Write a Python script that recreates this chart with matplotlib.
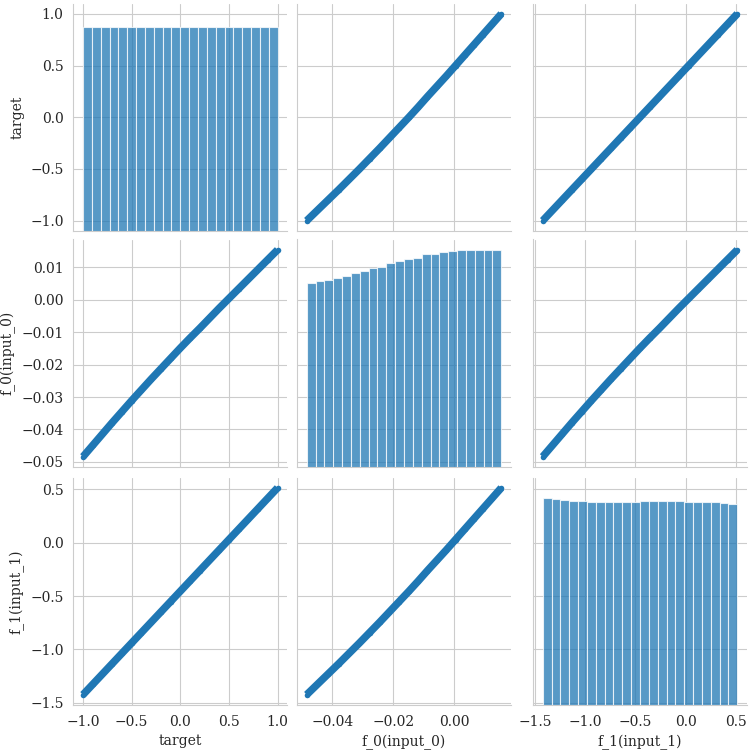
import numpy as np
import matplotlib
matplotlib.use("Agg")
import matplotlib.pyplot as plt
import seaborn as sns

# values
target = [-1.0, -0.9, -0.8, -0.7, -0.6, -0.5, -0.4, -0.3, -0.2, -0.1, 0.0,
          0.1, 0.2, 0.3, 0.4, 0.5, 0.6, 0.7, 0.8, 0.9, 1.0]
f_0 = [-0.0484, -0.0449, -0.0414, -0.0379, -0.0345, -0.0311, -0.0278,
       -0.0245, -0.0213, -0.0181, -0.0149, -0.0118, -0.0088, -0.0057,
       -0.0026, 0.0004, 0.0034, 0.0064, 0.0094, 0.0124, 0.0154]
f_1 = [-1.425, -1.328, -1.231, -1.134, -1.037, -0.940, -0.843, -0.746,
       -0.649, -0.552, -0.455, -0.358, -0.261, -0.164, -0.067, 0.030,
       0.127, 0.224, 0.321, 0.418, 0.515]

# histogram counts (22 bins each) for the diagonal
target_counts = [609] * 22
f_0_counts = [549, 554, 557, 563, 569, 579, 584, 593, 596, 608, 614,
              620, 625, 635, 635, 641, 644, 647, 647, 647, 647, 647]
f_1_counts = [618, 615, 612, 609, 609, 606, 606, 606, 606, 606, 606,
              609, 609, 609, 609, 609, 606, 606, 606, 606, 604, 601]

names = ['target', 'f_0(input_0)', 'f_1(input_1)']
series = [target, f_0, f_1]
counts = [target_counts, f_0_counts, f_1_counts]

sns.set_style('whitegrid')
plt.rcParams['font.family'] = ['DejaVu Serif']
plt.rcParams['font.size'] = 10

blue = '#1f77b4'

fig = plt.figure(figsize=(7.5, 7.5), dpi=100)
lefts = [73.3, 297, 533]
bottoms = [231, 467, 705]
w, h = 214 / 750, 227.5 / 750

axes = np.empty((3, 3), dtype=object)
for i in range(3):
    for j in range(3):
        rect = [lefts[j] / 750, 1 - bottoms[i] / 750, w, h]
        sx = axes[0, j] if i > 0 else None
        sy = axes[i, 0] if j > 0 else None
        axes[i, j] = fig.add_axes(rect, sharex=sx, sharey=sy)

diag_axes = []
for i in range(3):
    for j in range(3):
        ax = axes[i, j]
        if i != j:
            # points sit under a thick band so the dense cloud reads as solid
            ax.scatter(series[j], series[i], s=16, color=blue, lw=0, zorder=2)
            ax.plot(series[j], series[i], color=blue, lw=5.4,
                    solid_capstyle='butt', solid_joinstyle='round', zorder=3)
        else:
            # invisible points so the base axes gets the right limits
            ax.scatter(series[i], series[i], alpha=0)
            dax = ax.twinx()
            if diag_axes:
                dax.sharey(diag_axes[0])
            dax.set_axis_off()
            edges = np.linspace(min(series[i]), max(series[i]), len(counts[i]) + 1)
            dax.bar(edges[:-1], counts[i], width=np.diff(edges), align='edge',
                    color=blue, alpha=0.75, edgecolor='white', linewidth=0.8)
            diag_axes.append(dax)
        for side in ['top', 'right']:
            ax.spines[side].set_visible(False)
        ax.tick_params(left=False, right=False, bottom=False, top=False)
        if j > 0:
            ax.tick_params(labelleft=False)
        else:
            ax.set_ylabel(names[i])
        if i < 2:
            ax.tick_params(labelbottom=False)
        else:
            ax.set_xlabel(names[j])

fig.savefig('out.png', dpi=100)
